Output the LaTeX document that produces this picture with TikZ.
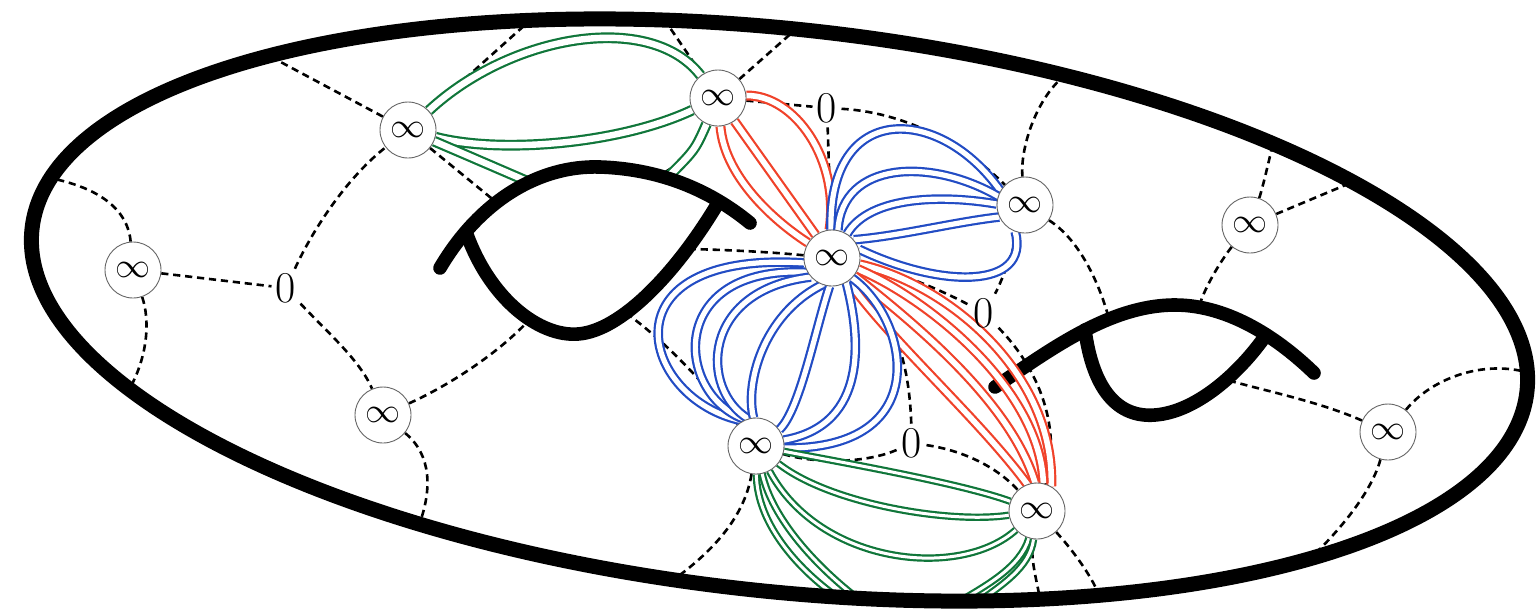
\documentclass[tikz,border=0pt]{standalone}
\definecolor{loopblue}{RGB}{34,76,196}
\definecolor{loopred}{RGB}{240,66,42}
\definecolor{loopgreen}{RGB}{16,118,58}
\pgfdeclarelayer{bg}
\pgfdeclarelayer{dashes}
\pgfdeclarelayer{under}
\pgfdeclarelayer{surface}
\pgfdeclarelayer{over}
\pgfsetlayers{bg,dashes,under,surface,over,main}
\newcommand{\bigInf}{\scalebox{1.75}{$\infty$}}
\begin{document}
\begin{tikzpicture}[x=0.5pt,y=-0.5pt,
  puncture/.style={circle,draw=black!60,line width=0.45pt,fill=white,minimum size=28pt,inner sep=0pt},
  zero/.style={inner sep=2pt,font=\fontsize{22}{22}\selectfont},
  dashedge/.style={line width=1.3pt,dash pattern=on 3.6pt off 2.4pt},
  surfacestroke/.style={line width=7.5pt},
  handlestroke/.style={line width=6.8pt,line cap=round},
  strand/.style={line width=1.1pt,double=white,double distance=2.6pt},
  bluestrand/.style={strand,draw=loopblue},
  redstrand/.style={strand,draw=loopred,double distance=2.8pt},
  greenstrand/.style={strand,draw=loopgreen,double distance=3.2pt},
  tightgreen/.style={strand,draw=loopgreen,double distance=1.5pt}]

\useasboundingbox (0,0) rectangle (1536,612);
\begin{pgfonlayer}{bg}
  \fill[white] (0,0) rectangle (1536,612);
\end{pgfonlayer}

% punctures
\node[puncture] (A) at (408,130) {\bigInf};
\node[puncture] (B) at (718,98) {\bigInf};
\node[puncture] (C) at (1025,205) {\bigInf};
\node[puncture] (D) at (1250,225) {\bigInf};
\node[puncture] (E) at (133,270) {\bigInf};
\node[puncture] (F) at (832,258) {\bigInf};
\node[puncture] (G) at (383,415) {\bigInf};
\node[puncture] (H) at (756,446) {\bigInf};
\node[puncture] (I) at (1037,511) {\bigInf};
\node[puncture] (J) at (1388,432) {\bigInf};

% zero vertices
\node[zero] (Z1) at (286,288) {0};
\node[zero] (Z2) at (827,108) {0};
\node[zero] (Z3) at (984,313) {0};
\node[zero] (Z4) at (912,443) {0};

% ends on the outer surface
\coordinate (e1) at (50,178);
\coordinate (e2) at (130,388);
\coordinate (a1) at (275,59);
\coordinate (a2) at (526,24);
\coordinate (b1) at (666,22);
\coordinate (b2) at (795,30);
\coordinate (c1) at (1064,76);
\coordinate (d1) at (1273,143);
\coordinate (d2) at (1355,181);
\coordinate (j1) at (1526,372);
\coordinate (j2) at (1308,561);
\coordinate (i1) at (1040,600);
\coordinate (i2) at (1100,597);
\coordinate (g1) at (419,525);
\coordinate (hh1) at (673,580);
\coordinate (gh1) at (843,601);
\coordinate (gh2) at (861,601);
\coordinate (gi1) at (957,603);
\coordinate (gi2) at (977,603);

% ends on the handles
\coordinate (h1) at (496,202);
\coordinate (h2) at (659,176);
\coordinate (h3) at (691,249);
\coordinate (h4) at (1109,319);
\coordinate (h5) at (1199,307);
\coordinate (h6) at (1227,380);
\coordinate (h7) at (530,319);
\coordinate (h8) at (626,313);
\coordinate (gA) at (529,182);
\coordinate (gB) at (667,178);

% dashed graph
\begin{pgfonlayer}{dashes}
\draw[dashedge] (E) .. controls (128,210) and (100,188) .. (e1);
\draw[dashedge] (E) .. controls (150,320) and (148,355) .. (e2);
\draw[dashedge] (E) -- (Z1);
\draw[dashedge] (Z1) .. controls (315,225) and (350,175) .. (A);
\draw[dashedge] (Z1) .. controls (325,330) and (360,360) .. (G);
\draw[dashedge] (A) -- (a1);
\draw[dashedge] (A) -- (a2);
\draw[dashedge] (A) -- (h1);
\draw[dashedge] (B) -- (b1);
\draw[dashedge] (B) -- (b2);
\draw[dashedge] (B) -- (Z2);
\draw[dashedge] (B) .. controls (700,150) .. (h2);
\draw[dashedge] (Z2) -- (F);
\draw[dashedge] (Z2) .. controls (900,112) and (960,140) .. (C);
\draw[dashedge] (F) .. controls (770,252) and (730,250) .. (h3);
\draw[dashedge] (F) .. controls (900,272) and (945,292) .. (Z3);
\draw[dashedge] (C) .. controls (1020,150) and (1035,100) .. (c1);
\draw[dashedge] (C) .. controls (1080,240) and (1100,285) .. (h4);
\draw[dashedge] (C) .. controls (1012,255) and (1000,285) .. (Z3);
\draw[dashedge] (Z3) .. controls (1040,370) and (1062,430) .. (I);
\draw[dashedge] (D) .. controls (1262,190) and (1268,165) .. (d1);
\draw[dashedge] (D) -- (d2);
\draw[dashedge] (D) .. controls (1225,255) and (1205,285) .. (h5);
\draw[dashedge] (J) .. controls (1320,402) and (1270,392) .. (h6);
\draw[dashedge] (J) .. controls (1430,380) and (1480,360) .. (j1);
\draw[dashedge] (J) .. controls (1372,490) and (1345,525) .. (j2);
\draw[dashedge] (G) .. controls (450,385) and (500,352) .. (h7);
\draw[dashedge] (G) .. controls (432,455) and (432,490) .. (g1);
\draw[dashedge] (h8) .. controls (670,345) and (705,385) .. (H);
\draw[dashedge] (H) .. controls (745,515) and (715,550) .. (hh1);
\draw[dashedge] (H) .. controls (820,465) and (870,462) .. (Z4);
\draw[dashedge] (Z4) .. controls (910,390) and (905,320) .. (F);
\draw[dashedge] (Z4) .. controls (960,450) and (995,465) .. (I);
\draw[dashedge] (I) .. controls (1030,560) and (1037,580) .. (i1);
\draw[dashedge] (I) .. controls (1068,545) and (1090,572) .. (i2);
\end{pgfonlayer}

% strands that run behind a handle or off the visible side of the surface
\begin{pgfonlayer}{under}
\draw[greenstrand] (A) .. controls (510,35) and (650,10) .. (B);
\draw[greenstrand] (A) .. controls (500,154) and (620,144) .. (B);
\draw[greenstrand] (A) .. controls (478,160) .. (gA);
\draw[greenstrand] (B) .. controls (695,150) .. (gB);
\draw[tightgreen] (H) .. controls (757,525) and (800,572) .. (gh1);
\draw[tightgreen] (H) .. controls (772,518) and (815,566) .. (gh2);
\draw[tightgreen] (I) .. controls (1020,568) and (985,586) .. (gi1);
\draw[tightgreen] (I) .. controls (1030,568) and (1000,586) .. (gi2);
\end{pgfonlayer}

% outer surface and handles
\begin{pgfonlayer}{surface}
\draw[surfacestroke, rotate around={-6.2:(779.5,310)}] (779.5,310) ellipse [x radius=375.95pt, y radius=140.55pt];
\draw[handlestroke] (440,268) .. controls (480,200) and (540,165) .. (600,167)
                     .. controls (660,169) and (710,190) .. (750,223);
\draw[handlestroke] (466,232) .. controls (490,300) and (540,337) .. (578,334)
                     .. controls (620,331) and (675,275) .. (718,203);
\draw[handlestroke] (995,387) .. controls (1050,350) and (1110,305) .. (1175,305)
                     .. controls (1230,305) and (1280,340) .. (1314,373);
\draw[handlestroke] (1085,330) .. controls (1093,390) and (1118,418) .. (1155,415)
                     .. controls (1195,412) and (1238,375) .. (1266,335);
\end{pgfonlayer}

\begin{pgfonlayer}{over}
% red strands
\draw[redstrand] (B.5) .. controls (795,95) and (840,160) .. (F.95);
\draw[redstrand] (B) .. controls (725,180) and (780,225) .. (F);
\draw[redstrand] (B) -- (F);
\draw[redstrand] (F) .. controls (950,285) and (1055,375) .. (I.60);
\draw[redstrand] (F) .. controls (930,300) and (1040,390) .. (I.77);
\draw[redstrand] (F) .. controls (910,320) and (1010,400) .. (I.94);
\draw[redstrand] (F) .. controls (890,340) and (980,420) .. (I.110);
% blue strands F--C
\draw[bluestrand] (F.92) .. controls (828,100) and (940,105) .. (C.150);
\draw[bluestrand] (F.78) .. controls (842,160) and (932,158) .. (C.162);
\draw[bluestrand] (F.58) .. controls (870,195) and (945,195) .. (C.178);
\draw[bluestrand] (F.40) .. controls (900,236) and (955,222) .. (C.205);
\draw[bluestrand] (F.18) .. controls (940,288) and (1030,290) .. (C.250);
% blue strands F--H
\draw[bluestrand] (F.190) .. controls (600,250) and (640,400) .. (H.118);
\draw[bluestrand] (F.210) .. controls (665,265) and (675,395) .. (H.112);
\draw[bluestrand] (F.222) .. controls (700,290) and (700,390) .. (H.106);
\draw[bluestrand] (F.250) .. controls (762,315) and (745,385) .. (H.95);
\draw[bluestrand] (F.265) .. controls (815,330) and (800,410) .. (H.35);
\draw[bluestrand] (F.300) .. controls (860,335) and (870,425) .. (H.12);
\draw[bluestrand] (F.315) .. controls (910,320) and (935,450) .. (H.-4);
% green strands H--I
\draw[tightgreen] (H) .. controls (840,462) and (960,483) .. (I);
\draw[tightgreen] (H) .. controls (830,504) and (950,524) .. (I);
\draw[tightgreen] (H) .. controls (820,565) and (960,580) .. (I);
\end{pgfonlayer}
\end{tikzpicture}
\end{document}
